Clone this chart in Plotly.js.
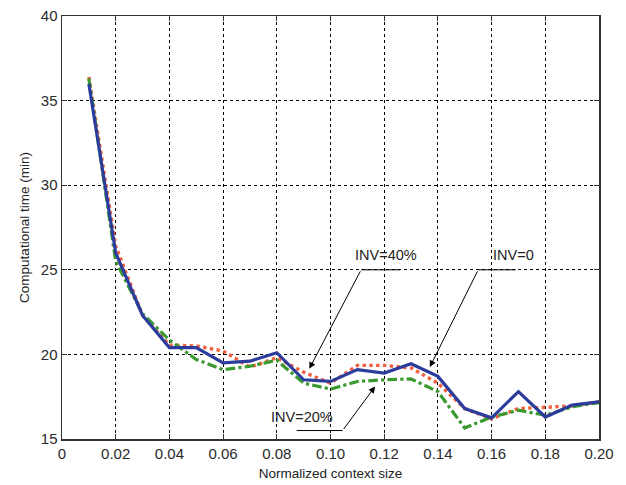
<!DOCTYPE html>
<html>
<head>
<meta charset="utf-8">
<script src="https://cdn.plot.ly/plotly-3.0.1.min.js"></script>
<style>html,body{margin:0;padding:0;background:#fff;}#chart{width:626px;height:485px;}</style>
</head>
<body>
<div id="chart"></div>
<script>
const contextSize = [0.01,0.02,0.03,0.04,0.05,0.06,0.07,0.08,0.09,0.10,0.11,0.12,0.13,0.14,0.15,0.16,0.17,0.18,0.19,0.20];
const inv0   = [36.0,26.0,22.3,20.4,20.4,19.5,19.6,20.1,18.5,18.4,19.1,18.9,19.45,18.7,16.8,16.25,17.8,16.3,17.0,17.2];
const inv20  = [36.3,25.5,22.4,20.85,19.7,19.1,19.3,19.65,18.3,17.95,18.4,18.5,18.55,17.8,15.65,16.3,16.7,16.4,16.9,17.15];
const inv40  = [36.4,26.4,22.3,20.55,20.5,20.2,19.25,19.8,18.95,18.3,19.35,19.35,19.2,18.3,16.8,16.2,16.8,16.85,16.95,17.2];
const xTicks = [0,0.02,0.04,0.06,0.08,0.10,0.12,0.14,0.16,0.18,0.20];
const xTickText = ['0','0.02','0.04','0.06','0.08','0.10','0.12','0.14','0.16','0.18','0.20'];
const yTicks = [15,20,25,30,35,40];

const traces = [
  {x: contextSize, y: inv40, mode:'lines', name:'INV=40%', line:{color:'#f0603e', width:3.4, dash:'dot'}},
  {x: contextSize, y: inv20, mode:'lines', name:'INV=20%', line:{color:'#3a9a30', width:3.2, dash:'dashdot'}},
  {x: contextSize, y: inv0,  mode:'lines', name:'INV=0',   line:{color:'#2b3c9c', width:3.2}}
];

const font = {family:'Liberation Sans, Arial, sans-serif', size:15, color:'#2a2a2a'};
const ann = (text, x, y) => ({x, y, xref:'x', yref:'y', text, showarrow:false, font:{family:font.family, size:14.5, color:'#222'}});
const arrow = (tipX, tipY, tailX, tailY) => ({x:tipX, y:tipY, ax:tailX, ay:tailY, xref:'x', yref:'y', axref:'x', ayref:'y', text:'', showarrow:true, arrowhead:2, arrowsize:1.3, arrowwidth:1, arrowcolor:'#000'});
const hline = (x0, x1, y) => ({type:'line', xref:'x', yref:'y', x0, x1, y0:y, y1:y, line:{color:'#000', width:1}});

const layout = {
  width:626, height:485,
  margin:{l:62, r:27, t:16, b:46},
  paper_bgcolor:'#fff', plot_bgcolor:'#fff',
  showlegend:false,
  font: font,
  xaxis:{
    range:[0,0.2], tickvals:xTicks, ticktext:xTickText, ticks:'inside', ticklen:5, tickcolor:'#333',
    showline:true, mirror:'ticks', linecolor:'#333', linewidth:1.5,
    showgrid:true, gridcolor:'#000', gridwidth:1, griddash:'dot', zeroline:false,
    title:{text:'Normalized context size', font:{family:font.family, size:13.5, color:'#222'}, standoff:8},
    tickfont:{family:font.family, size:15, color:'#2a2a2a'}
  },
  yaxis:{
    range:[15,40], tickvals:yTicks, ticks:'inside', ticklen:5, tickcolor:'#333',
    showline:true, mirror:'ticks', linecolor:'#333', linewidth:1.5,
    showgrid:true, gridcolor:'#000', gridwidth:1, griddash:'3px,3px', zeroline:false,
    title:{text:'Computational time (min)', font:{family:font.family, size:13.5, color:'#222'}, standoff:8},
    tickfont:{family:font.family, size:15, color:'#2a2a2a'}
  },
  shapes:[
    hline(0.1114, 0.1259, 25.0),
    hline(0.155, 0.169, 25.0),
    hline(0.0874, 0.1045, 15.5)
  ],
  annotations:[
    ann('INV=40%', 0.1205, 25.85),
    ann('INV=0', 0.168, 25.85),
    ann('INV=20%', 0.0893, 16.3),
    arrow(0.0921, 19.15, 0.1114, 25.0),
    arrow(0.137, 19.25, 0.155, 25.0),
    arrow(0.1166, 18.1, 0.1045, 15.5)
  ]
};

Plotly.newPlot('chart', traces, layout, {staticPlot:true, displayModeBar:false});
</script>
</body>
</html>
